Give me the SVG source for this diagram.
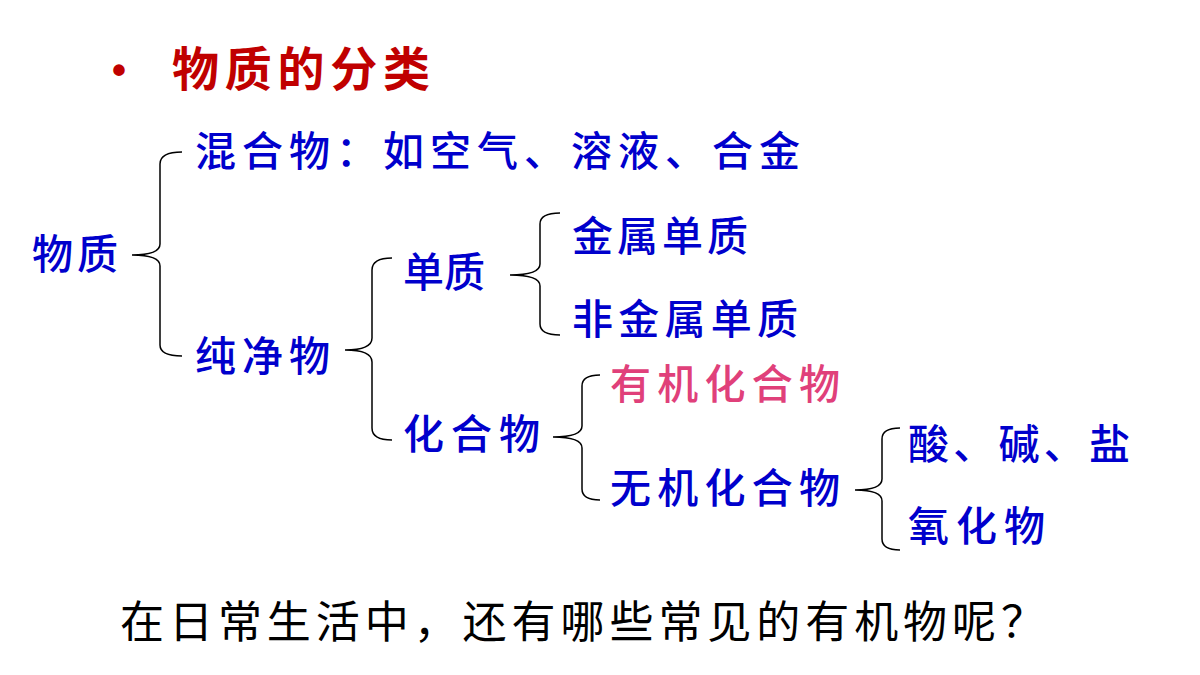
<svg xmlns="http://www.w3.org/2000/svg" width="1200" height="675" viewBox="0 0 1200 675">
<style>
.t{font-family:"Liberation Sans","Noto Sans CJK SC",sans-serif;font-size:41px;font-weight:500;fill:#0000CC}
.b{fill:none;stroke:#000;stroke-width:1.5}
</style>
<rect width="1200" height="675" fill="#fff"/>
<g id="title"><text x="112" y="84" font-family="Liberation Sans,sans-serif" font-size="40" fill="#C00000" font-weight="bold">•</text>
<text x="172" y="86" textLength="258" font-family="Liberation Sans,'Noto Sans CJK SC',sans-serif" font-size="47" font-weight="bold" fill="#C00000">物质的分类</text></g>
<g id="connectors">
<path class="b" d="M182,152 Q160,152 160,164 L160,244 Q160,255 132,255 Q160,255 160,266 L160,345 Q160,356 182,356"/>
<path class="b" d="M392,258 Q372,258 372,270 L372,338 Q372,350 345,350 Q372,350 372,362 L372,428 Q372,440 392,440"/>
<path class="b" d="M560,213 Q540,213 540,224 L540,264 Q540,275 510,275 Q540,275 540,286 L540,324 Q540,335 560,335"/>
<path class="b" d="M600,375 Q582,375 582,386 L582,426 Q582,437 553,437 Q582,437 582,448 L582,489 Q582,500 600,500"/>
<path class="b" d="M900,428 Q882,428 882,439 L882,479 Q882,490 855,490 Q882,490 882,501 L882,539 Q882,550 900,550"/>
</g>
<g id="n1"><text class="t" x="195" y="166" textLength="605">混合物：如空气、溶液、合金</text></g>
<g id="n2"><text class="t" x="32" y="269" textLength="86">物质</text></g>
<g id="n3"><text class="t" x="195" y="371" textLength="135">纯净物</text></g>
<g id="n4"><text class="t" x="403" y="287" textLength="82">单质</text></g>
<g id="n5"><text class="t" x="572" y="251" textLength="176">金属单质</text></g>
<g id="n6"><text class="t" x="572" y="334" textLength="226">非金属单质</text></g>
<g id="n7"><text class="t" x="403" y="449" textLength="137">化合物</text></g>
<g id="n8"><text class="t" x="610" y="399" textLength="230" style="fill:#E0407A">有机化合物</text></g>
<g id="n9"><text class="t" x="610" y="503" textLength="230">无机化合物</text></g>
<g id="n10"><text class="t" x="908" y="459" textLength="222">酸、碱、盐</text></g>
<g id="n11"><text class="t" x="908" y="541" textLength="137">氧化物</text></g>
<g id="q"><text x="120" y="638" textLength="925" font-family="Liberation Sans,'Noto Sans CJK SC',sans-serif" font-size="44" fill="#000">在日常生活中，还有哪些常见的有机物呢？</text></g>
</svg>
